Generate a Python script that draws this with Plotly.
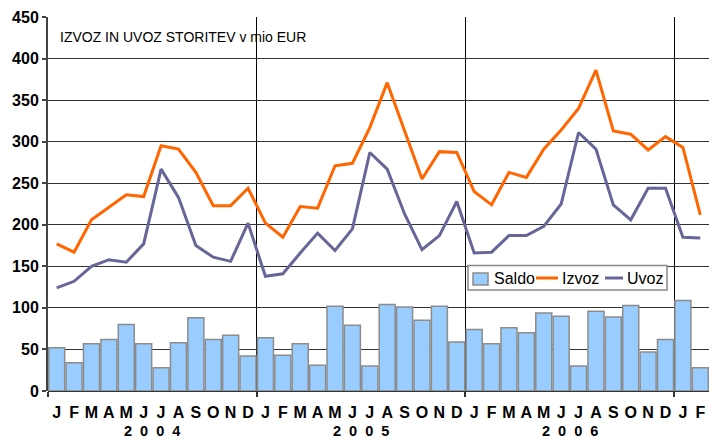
import plotly.graph_objects as go

# monthly data, Jan 2004 - Feb 2007 (mio EUR)
months = ['J', 'F', 'M', 'A', 'M', 'J', 'J', 'A', 'S', 'O', 'N', 'D'] * 3 + ['J', 'F']
years = ['2004', '2005', '2006']

izvoz = [177, 167, 206, 221, 236, 234, 295, 291, 263, 223, 223, 244,
         202, 185, 222, 220, 271, 274, 317, 371, 314, 255, 288, 287,
         240, 224, 263, 257, 291, 314, 340, 386, 313, 309, 290, 306,
         293, 212]
uvoz = [124, 132, 150, 158, 155, 177, 267, 233, 175, 161, 156, 202,
        138, 141, 166, 190, 169, 195, 287, 267, 213, 170, 187, 228,
        166, 167, 187, 187, 198, 225, 311, 291, 224, 206, 244, 244,
        185, 184]
saldo = [52, 34, 57, 62, 80, 57, 28, 58, 88, 62, 67, 42,
         64, 43, 57, 31, 102, 79, 30, 104, 101, 85, 102, 59,
         74, 57, 76, 70, 94, 90, 30, 96, 89, 103, 47, 62,
         109, 28]

x = list(range(len(months)))
FONT = 'Liberation Sans, Arial, sans-serif'
C_SALDO, C_IZVOZ, C_UVOZ = '#99CCFF', '#FF6600', '#666699'

fig = go.Figure()

fig.add_trace(go.Bar(
    x=x, y=saldo, name='Saldo',
    marker=dict(color=C_SALDO, line=dict(color='#8C8C8C', width=1.5)),
))
fig.add_trace(go.Scatter(
    x=x, y=izvoz, name='Izvoz', mode='lines',
    line=dict(color=C_IZVOZ, width=3),
))
fig.add_trace(go.Scatter(
    x=x, y=uvoz, name='Uvoz', mode='lines',
    line=dict(color=C_UVOZ, width=3),
))
# invisible trace so the overlaid month axis is drawn
fig.add_trace(go.Scatter(x=[0], y=[0], xaxis='x2', mode='markers',
                         marker=dict(opacity=0), showlegend=False, hoverinfo='skip'))

n = len(months)
fig.update_layout(
    width=709, height=439,
    margin=dict(l=48, r=0, t=17, b=48),
    paper_bgcolor='white', plot_bgcolor='white',
    font=dict(family=FONT, color='black'),
    bargap=0.08,
    showlegend=False,
    # year separators on the main x axis
    xaxis=dict(
        range=[-0.5, n - 0.5], automargin=False,
        tickvals=[-0.5, 11.5, 23.5, 35.5],
        showticklabels=False,
        showgrid=True, gridcolor='black', gridwidth=1,
        ticks='outside', ticklen=5, tickcolor='#333333', tickwidth=1.5,
        showline=False, zeroline=False,
    ),
    # month letters on an overlaid axis
    xaxis2=dict(
        overlaying='x', anchor='y', side='bottom', automargin=False,
        range=[-0.5, n - 0.5],
        tickvals=x, ticktext=months,
        tickfont=dict(size=16, family=FONT, weight='bold'),
        ticks='', ticklabelstandoff=10,
        showgrid=False, zeroline=False, showline=False,
    ),
    yaxis=dict(
        range=[0, 450], dtick=50, automargin=False,
        tickfont=dict(size=16, family=FONT, weight='bold'),
        showgrid=True, gridcolor='#333333', gridwidth=1,
        ticks='outside', ticklen=4, tickcolor='#444444', tickwidth=1.5,
        showline=True, linecolor='#444444', linewidth=2,
        zeroline=True, zerolinecolor='#333333', zerolinewidth=2,
    ),
)

for i, yr in enumerate(years):
    fig.add_annotation(
        x=i * 12 + 5.5, xref='x', y=-0.107, yref='paper',
        text='&nbsp;&nbsp;'.join(yr), showarrow=False,
        font=dict(size=14.5, family=FONT, weight='bold'), yanchor='middle',
    )

fig.add_annotation(
    x=0.015, xref='paper', y=0.9465, yref='paper',
    xanchor='left', yanchor='middle', showarrow=False,
    text='IZVOZ IN UVOZ STORITEV v mio EUR',
    font=dict(size=14, family=FONT),
)

# compact legend box (drawn by hand to match the Excel layout)
def px_x(p):
    return (p - 48) / 661.0

def px_y(p):
    return (391 - p) / 374.0

fig.add_shape(type='rect', xref='paper', yref='paper',
              x0=px_x(468), x1=px_x(667), y0=px_y(290), y1=px_y(265.5),
              fillcolor='white', line=dict(color='#888888', width=1.5), layer='above')
fig.add_shape(type='rect', xref='paper', yref='paper',
              x0=px_x(473), x1=px_x(488), y0=px_y(285), y1=px_y(273),
              fillcolor=C_SALDO, line=dict(color='#8C8C8C', width=1.5), layer='above')
fig.add_shape(type='line', xref='paper', yref='paper',
              x0=px_x(536), x1=px_x(558), y0=px_y(278), y1=px_y(278),
              line=dict(color=C_IZVOZ, width=3), layer='above')
fig.add_shape(type='line', xref='paper', yref='paper',
              x0=px_x(605), x1=px_x(623), y0=px_y(278), y1=px_y(278),
              line=dict(color=C_UVOZ, width=3), layer='above')
for label, xp in [('Saldo', 492), ('Izvoz', 560), ('Uvoz', 625)]:
    fig.add_annotation(x=px_x(xp), xref='paper', y=px_y(278.5), yref='paper',
                       xanchor='left', yanchor='middle', showarrow=False,
                       text=label, font=dict(size=16, family=FONT))

# drop the default page margin so the figure sits at the window's top-left
fig.write_html("out.html", config={'displayModeBar': False},
               post_script="document.body.style.margin='0';")
